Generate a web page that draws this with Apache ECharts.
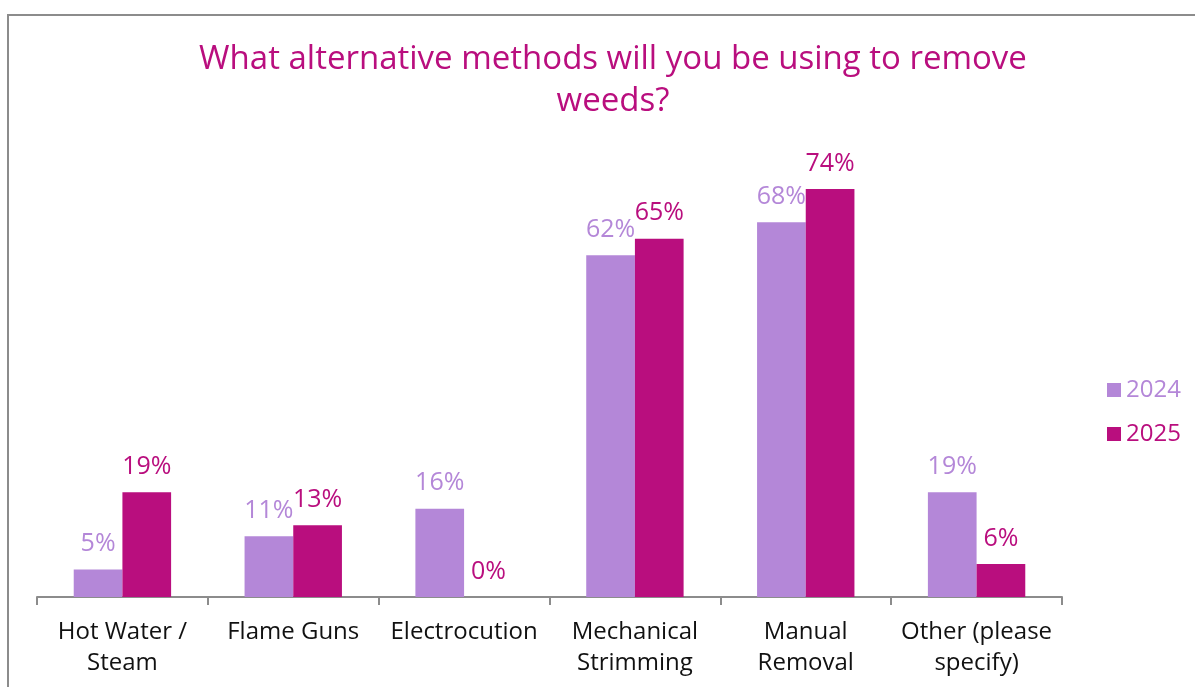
<!DOCTYPE html>
<html>
<head>
<meta charset="utf-8">
<script src="https://cdn.jsdelivr.net/npm/echarts@6/dist/echarts.min.js"></script>
<style>
html, body { margin: 0; padding: 0; background: #fff; }
#chart { width: 1195px; height: 687px; }
</style>
</head>
<body>
<div id="chart"></div>
<script>
// data
var categories = ['Hot Water /\nSteam', 'Flame Guns', 'Electrocution', 'Mechanical\nStrimming', 'Manual\nRemoval', 'Other (please\nspecify)'];
var values2024 = [5, 11, 16, 62, 68, 19];
var values2025 = [19, 13, 0, 65, 74, 6];
var seriesNames = ['2024', '2025'];

var purple = '#b487d8';
var magenta = '#b90e7e';
var font = 'Open Sans';

var chart = echarts.init(document.getElementById('chart'));
var option = {
    backgroundColor: '#fff',
    textStyle: { fontFamily: font },
    title: {
        text: 'What alternative methods will you be using to remove\nweeds?',
        left: 608,
        top: 34,
        textAlign: 'center',
        textStyle: {
            color: magenta,
            fontSize: 33,
            fontWeight: 'normal',
            fontFamily: font,
            lineHeight: 42
        }
    },
    graphic: [{
        type: 'rect',
        shape: { x: 8, y: 15, width: 1200, height: 700 },
        style: { fill: 'none', stroke: '#8c8c8c', lineWidth: 2 },
        silent: true
    }],
    legend: {
        orient: 'vertical',
        left: 1102,
        top: 373,
        itemWidth: 14,
        itemHeight: 14,
        itemGap: 20,
        icon: 'rect',
        textStyle: { fontSize: 24, fontFamily: font },
        data: [
            { name: seriesNames[0], textStyle: { color: purple } },
            { name: seriesNames[1], textStyle: { color: magenta } }
        ]
    },
    grid: {
        left: 37,
        right: 133,
        top: 156,
        bottom: 90
    },
    xAxis: {
        type: 'category',
        data: categories,
        axisLine: { lineStyle: { color: '#8c8c8c', width: 2 } },
        axisTick: { show: true, length: 8, lineStyle: { color: '#8c8c8c', width: 2 } },
        axisLabel: {
            color: '#111',
            fontSize: 24,
            fontFamily: font,
            lineHeight: 31,
            margin: 20,
            interval: 0
        }
    },
    yAxis: {
        type: 'value',
        min: 0,
        max: 80,
        show: false,
        splitLine: { show: false }
    },
    series: [{
        name: seriesNames[0],
        type: 'bar',
        data: values2024,
        barGap: '0%',
        barCategoryGap: '43%',
        itemStyle: { color: purple },
        label: {
            show: true,
            position: 'top',
            distance: 13,
            formatter: '{c}%',
            color: purple,
            fontSize: 25,
            fontFamily: font
        }
    }, {
        name: seriesNames[1],
        type: 'bar',
        data: values2025,
        itemStyle: { color: magenta },
        label: {
            show: true,
            position: 'top',
            distance: 13,
            formatter: '{c}%',
            color: magenta,
            fontSize: 25,
            fontFamily: font
        }
    }]
};
chart.setOption(option);
</script>
</body>
</html>
